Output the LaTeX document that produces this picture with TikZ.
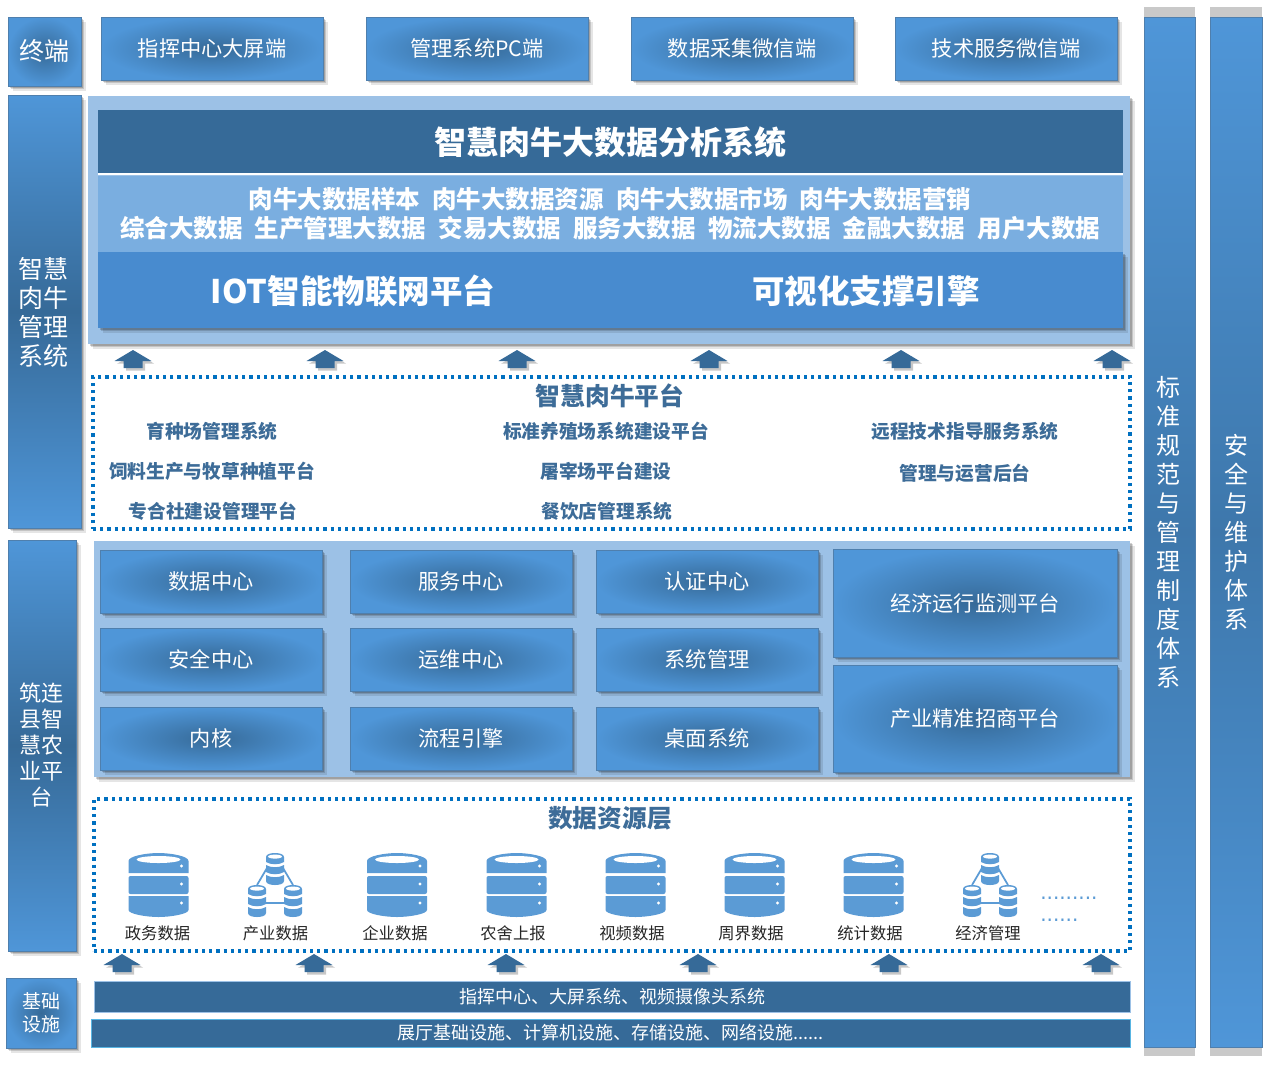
\documentclass[tikz,border=0pt]{standalone}
\usepackage{fontspec}
\setmainfont{Noto Sans CJK SC}
\newfontfamily\dotfont{DejaVu Sans}
\usetikzlibrary{shadows}
\definecolor{dk}{HTML}{366A98}
\definecolor{lt}{HTML}{4F96D8}
\definecolor{panel}{HTML}{9CC1E6}
\definecolor{midb}{HTML}{7AAEE0}
\definecolor{lowb}{HTML}{488BCF}
\definecolor{edge}{HTML}{4F7FAD}
\definecolor{dotb}{HTML}{0070C0}
\definecolor{icon}{HTML}{5B9BD5}
\definecolor{txt}{HTML}{3D6C98}
\newcommand\fpx[2]{\fontsize{\dimexpr #1pt*3/4\relax}{\dimexpr #2pt*3/4\relax}\selectfont}
\newcommand\fpxr[1]{\pgfmathsetlengthmacro\fszz{#1*0.75pt}\fontsize{\fszz}{\fszz}\selectfont}
\newcommand\bx[7]{%
  \pgfmathsetmacro\cxx{(#2+#4)/2}\pgfmathsetmacro\cyy{(#3+#5)/2}%
  \node[#6,minimum width={(#4-#2)*0.75pt},minimum height={(#5-#3)*0.75pt}] (#1) at (\cxx,\cyy) {#7};}
\tikzset{
  x=0.75pt,y=-0.75pt,
  shad/.style={
    drop shadow={shadow xshift=3.4pt,shadow yshift=-3.4pt,opacity=.10,fill=black},
    drop shadow={shadow xshift=2.4pt,shadow yshift=-2.4pt,opacity=.14,fill=black},
    drop shadow={shadow xshift=1.4pt,shadow yshift=-1.4pt,opacity=.18,fill=black}},
  rbox/.style={draw=edge,line width=.5pt,inner sep=0pt,shad,shade,shading=radial,inner color=dk,outer color=lt,text=white,align=center},
  vbox/.style={draw=edge,line width=.5pt,inner sep=0pt,shad,shade,top color=lt,bottom color=lt,middle color=dk,text=white,align=center},
  flat/.style={inner sep=0pt,text=white,align=center},
  dotbox/.style={draw=dotb,line width=2.4pt,dash pattern=on 2.4pt off 3pt,inner sep=0pt},
  sub/.style={inner sep=0pt,text=txt,font=\fpxr{18.7}\bfseries},
  lab/.style={inner sep=0pt,text=black!85,font=\fpxr{16.3}},
  hdr/.style={inner sep=0pt,text=txt,font=\fpxr{24.7}\bfseries},
  grid/.style={rbox,font=\fpxr{21.2}},
  blockarrow/.style={fill=dk,draw=none,drop shadow={shadow xshift=2pt,shadow yshift=-2pt,opacity=.22,fill=black}},
  dbicon/.pic={
    \fill[icon] (-30,20) -- (-30,8) .. controls (-30,3) and (-12,0) .. (0,0) .. controls (12,0) and (30,3) .. (30,8) -- (30,20) -- cycle;
    \fill[white] (0,6.5) ellipse [x radius=22,y radius=3.5];
    \fill[icon,rounded corners=1.5] (-30,23) rectangle (30,41);
    \fill[icon] (-30,43) -- (30,43) -- (30,57) .. controls (30,61) and (12,64) .. (0,64) .. controls (-12,64) and (-30,61) .. (-30,57) -- cycle;
    \fill[white] (23,13) circle (1.6) (23,31) circle (1.6) (23,50) circle (1.6);
  },
  stackicon/.pic={
    \fill[icon] (-9,9) -- (-9,4) .. controls (-9,1) and (-4,0) .. (0,0) .. controls (4,0) and (9,1) .. (9,4) -- (9,9) .. controls (4,12) and (-4,12) .. (-9,9) -- cycle;
    \fill[white] (0,3.6) ellipse [x radius=7,y radius=2];
    \fill[icon] (-9,12) .. controls (-4,15) and (4,15) .. (9,12) -- (9,19) .. controls (4,22) and (-4,22) .. (-9,19) -- cycle;
    \fill[icon] (-9,22) .. controls (-4,25) and (4,25) .. (9,22) -- (9,28) .. controls (9,31) and (4,32) .. (0,32) .. controls (-4,32) and (-9,31) .. (-9,28) -- cycle;
  },
  neticon/.pic={
    \draw[icon,line width=1.3pt] (-8,15) -- (-18,32) (8,15) -- (18,32) (-9,50) -- (9,50);
    \pic at (0,0) {stackicon};
    \pic at (-18,32) {stackicon};
    \pic at (18,32) {stackicon};
  },
  upblock/.pic={
    \path[blockarrow] (0,0) -- (18.5,11) -- (9.5,11) -- (9.5,18) -- (-9.5,18) -- (-9.5,11) -- (-18.5,11) -- cycle;
  }
}
\begin{document}
\begin{tikzpicture}
\useasboundingbox (0,0) rectangle (1269,1065);
\fill[white] (0,0) rectangle (1269,1065);

% grey strips behind the right bars
\fill[black!35,opacity=.6] (1144,7) rectangle (1195,1056);
\fill[black!35,opacity=.6] (1210,7) rectangle (1262,1056);

% terminal row
\bx{term}{8}{17}{81}{86}{rbox,font=\fpxr{25}}{终端}
\bx{t1}{101}{17}{323}{80}{rbox,font=\fpxr{21.2}}{指挥中心大屏端}
\bx{t2}{366}{17}{588}{80}{rbox,font=\fpxr{21.2}}{管理系统PC端}
\bx{t3}{631}{17}{853}{80}{rbox,font=\fpxr{21.2}}{数据采集微信端}
\bx{t4}{895}{17}{1117}{80}{rbox,font=\fpxr{21.2}}{技术服务微信端}

% left side boxes
\bx{sideA}{8}{95}{81}{528}{vbox}{}
\node[flat,font=\fpx{25}{29}] (sideAt) at (43,312) {智慧\\肉牛\\管理\\系统};
\bx{sideB}{8}{540}{76}{951}{vbox}{}
\node[flat,font=\fpx{22}{26}] (sideBt) at (41,745) {筑连\\县智\\慧农\\业平\\台};
\bx{sideC}{6}{978}{76}{1048}{rbox,font=\fpx{19}{23}}{基础\\设施}

% right bars
\bx{barA}{1144}{17}{1195}{1047}{draw=edge,line width=.5pt,inner sep=0pt,shade,top color=lt,bottom color=lt,middle color=dk!70!lt}{}
\bx{barB}{1210}{17}{1262}{1047}{draw=edge,line width=.5pt,inner sep=0pt,shade,top color=lt,bottom color=lt,middle color=dk!70!lt}{}
\node[flat,font=\fpx{24}{29}] (barAt) at (1168.5,532) {标\\准\\规\\范\\与\\管\\理\\制\\度\\体\\系};
\node[flat,font=\fpx{24}{29}] (barBt) at (1236,532) {安\\全\\与\\维\\护\\体\\系};

% analysis panel
\bx{panelA}{88}{96}{1130}{344}{fill=panel,inner sep=0pt,shad}{}
\bx{an3}{98}{252}{1123}{328}{fill=lowb,inner sep=0pt,shad}{}
\bx{an2}{98}{176}{1123}{252}{fill=midb,inner sep=0pt}{}
\bx{an1}{98}{110}{1123}{174}{fill=dk,inner sep=0pt,text=white,font=\fpxr{32}\bfseries}{智慧肉牛大数据分析系统}
\draw[white,line width=1.2pt] (an1.south west) -- (an1.south east);
\node[flat,font=\fpxr{24.5}\bfseries] (r1) at (610,199) {肉牛大数据样本\hspace{.5em}肉牛大数据资源\hspace{.5em}肉牛大数据市场\hspace{.5em}肉牛大数据营销};
\node[flat,font=\fpxr{24.5}\bfseries] (r2) at (610,228) {综合大数据\hspace{.5em}生产管理大数据\hspace{.5em}交易大数据\hspace{.5em}服务大数据\hspace{.5em}物流大数据\hspace{.5em}金融大数据\hspace{.5em}用户大数据};
\node[flat,font=\fpxr{32.5}\bfseries] (iot) at (353,291) {IOT智能物联网平台};
\node[flat,font=\fpxr{32.5}\bfseries] (vis) at (866,291) {可视化支撑引擎};

% arrows row 1
\foreach \ax in {133,325,517,709,901,1112} \pic at (\ax,350) {upblock};

% platform
\bx{plat}{93}{377}{1130}{529}{dotbox}{}
\node[hdr] (platT) at (610,396) {智慧肉牛平台};
\node[sub] (p1) at (212,431) {育种场管理系统};
\node[sub] (p2) at (212,471.5) {饲料生产与牧草种植平台};
\node[sub] (p3) at (213,511.5) {专合社建设管理平台};
\node[sub] (p4) at (606,431) {标准养殖场系统建设平台};
\node[sub] (p5) at (606,471.5) {屠宰场平台建设};
\node[sub] (p6) at (607,511.5) {餐饮店管理系统};
\node[sub] (p7) at (965,431) {远程技术指导服务系统};
\node[sub] (p8) at (965,473.5) {管理与运营后台};

% centre panel
\bx{panelB}{94}{541}{1130}{777}{fill=panel,inner sep=0pt,shad}{}
\bx{c1}{100}{550}{322}{613}{grid}{数据中心}
\bx{c2}{350}{550}{572}{613}{grid}{服务中心}
\bx{c3}{596}{550}{818}{613}{grid}{认证中心}
\bx{c4}{100}{628}{322}{691}{grid}{安全中心}
\bx{c5}{350}{628}{572}{691}{grid}{运维中心}
\bx{c6}{596}{628}{818}{691}{grid}{系统管理}
\bx{c7}{100}{707}{322}{770}{grid}{内核}
\bx{c8}{350}{707}{572}{770}{grid}{流程引擎}
\bx{c9}{596}{707}{818}{770}{grid}{桌面系统}
\bx{c10}{833}{549}{1117}{657}{grid}{经济运行监测平台}
\bx{c11}{833}{665}{1117}{772}{grid}{产业精准招商平台}

% data layer
\bx{data}{94}{799}{1130}{951}{dotbox}{}
\node[hdr] (dataT) at (610,818.5) {数据资源层};
\foreach \ix in {158.5,397,516.5,635.5,754.5,873.5} \pic at (\ix,853) {dbicon};
\foreach \ix in {275,990} \pic at (\ix,853) {neticon};
\node[lab] (d1) at (157.5,933) {政务数据};
\node[lab] (d2) at (275.5,933) {产业数据};
\node[lab] (d3) at (395,933) {企业数据};
\node[lab] (d4) at (513,933) {农舍上报};
\node[lab] (d5) at (632,933) {视频数据};
\node[lab] (d6) at (751,933) {周界数据};
\node[lab] (d7) at (870,933) {统计数据};
\node[lab] (d8) at (988,933) {经济管理};
\node[inner sep=0pt,anchor=base west,text=icon,font=\dotfont\fpx{20}{24}] (dots1) at (1040,899) {.........};
\node[inner sep=0pt,anchor=base west,text=icon,font=\dotfont\fpx{20}{24}] (dots2) at (1040,921) {......};

% arrows row 2
\foreach \ax in {122,314,506,698,889,1101} \pic at (\ax,954) {upblock};

% base bars
\bx{b1}{94}{981}{1130}{1012}{fill=dk,draw=panel,line width=.6pt,inner sep=0pt,text=white,font=\fpx{18}{22}}{\raisebox{-1pt}{指挥中心、大屏系统、视频摄像头系统}}
\bx{b2}{91}{1019}{1130}{1047}{fill=dk,draw=cyan!50!panel,line width=.6pt,inner sep=0pt,text=white,font=\fpx{18}{22}}{\raisebox{-1.4pt}{展厅基础设施、计算机设施、存储设施、网络设施......}}
\end{tikzpicture}
\end{document}
